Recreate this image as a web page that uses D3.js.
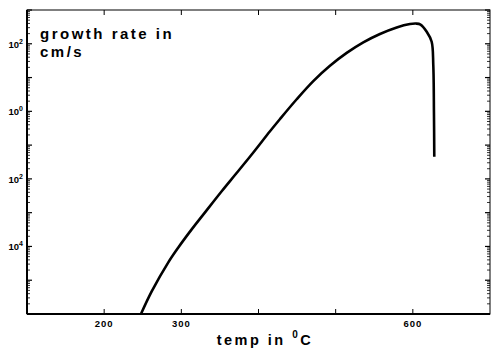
<!DOCTYPE html>
<html><head><meta charset="utf-8">
<script src="https://cdn.jsdelivr.net/npm/d3@7"></script>
<style>body{margin:0;background:#fff}svg{display:block}text{font-family:"Liberation Sans",Arial,sans-serif;font-weight:bold;fill:#000}</style>
</head><body><svg id="c" width="491" height="351"></svg>
<script>
// data: temperature (°C) and growth rate (cm/s)
const temps = [247.7,261.6,283.1,296.1,313.4,330.7,352.3,369.5,391.2,414.9,427.9,449.5,471.0,492.6,514.3,535.8,557.4,579.1,596.3,604,610,618.0,624.4,626.5,627.4,627.8];
const rates = [1e-6,4.65e-6,3.37e-5,9.31e-5,3.20e-4,1.02e-3,4.30e-3,0.0130,0.0528,0.257,0.594,2.28,7.85,22.3,53.6,110,195,305,384,397,372,228,115,23.6,0.778,0.0454];
const xTicks = [200,300,400,500,600];
const xTickLabels = ["200","300","","","600"];
const yLabelTicks = [1e2,1e0,1e-2,1e-4];
const yLabelExp = ["2","0","2","4"];
const xLabel = "temp in ", xLabelSup = "0", xLabelEnd = "C";
const titleLines = ["growth rate in","cm/s"];

const svg = d3.select("#c");
const L=27,R=490,T=10,B=314;
const x = d3.scaleLinear().domain([100,700]).range([L,R]);
const y = d3.scaleLog().domain([1e-6,1e3]).range([B,T]);

// frame
svg.append("rect").attr("x",L).attr("y",T).attr("width",R-L).attr("height",B-T)
  .attr("fill","none").attr("stroke","#000").attr("stroke-width",1);
svg.append("line").attr("x1",L).attr("x2",L).attr("y1",T).attr("y2",B).attr("stroke","#000").attr("stroke-width",2);
svg.append("line").attr("x1",L).attr("x2",R).attr("y1",B).attr("y2",B).attr("stroke","#000").attr("stroke-width",2);

// x ticks (bottom and top, inward)
const g = svg.append("g").attr("stroke","#000").attr("stroke-width",1);
xTicks.forEach(t=>{
  g.append("line").attr("x1",x(t)).attr("x2",x(t)).attr("y1",B).attr("y2",B-5);
  g.append("line").attr("x1",x(t)).attr("x2",x(t)).attr("y1",T).attr("y2",T+5);
});
// y ticks major + minor, left and right
const allY = [];
for(let e=-6;e<3;e++){for(let m=1;m<10;m++){allY.push({v:m*Math.pow(10,e),major:m===1});}}
allY.push({v:1e3,major:true});
allY.forEach(d=>{
  const yy=y(d.v), len=d.major?5:3;
  g.append("line").attr("x1",L).attr("x2",L+len).attr("y1",yy).attr("y2",yy).attr("stroke-width",d.major?1.2:0.8);
  g.append("line").attr("x1",R).attr("x2",R-len).attr("y1",yy).attr("y2",yy).attr("stroke-width",d.major?1.2:0.8);
});

// x tick labels
svg.selectAll(".xl").data(xTicks).enter().append("text")
  .attr("x",d=>x(d)).attr("y",327).attr("text-anchor","middle")
  .attr("font-size",9.5).attr("letter-spacing",1)
  .text((d,i)=>xTickLabels[i]);

// y tick labels
yLabelTicks.forEach((v,i)=>{
  const t = svg.append("text").attr("x",23).attr("y",y(v)+4).attr("text-anchor","end").attr("font-size",9.5);
  t.append("tspan").text("10");
  t.append("tspan").attr("dy",-4).attr("font-size",7).text(yLabelExp[i]);
});

// axis label
const xl = svg.append("text").attr("x",265).attr("y",345).attr("text-anchor","middle")
  .attr("font-size",14.5).attr("letter-spacing",2.5);
xl.append("tspan").text(xLabel);
xl.append("tspan").attr("dy",-7).attr("font-size",10).text(xLabelSup);
xl.append("tspan").attr("dy",7).text(xLabelEnd);

// title
titleLines.forEach((s,i)=>{
  svg.append("text").attr("x",40).attr("y",39+i*18).attr("font-size",15).attr("letter-spacing",2.5).text(s);
});

// curve
const data = temps.map((t,i)=>[t,rates[i]]);
svg.append("path").datum(data)
  .attr("d",d3.line().x(d=>x(d[0])).y(d=>y(d[1])).curve(d3.curveCatmullRom.alpha(0.5)))
  .attr("fill","none").attr("stroke","#000").attr("stroke-width",2.6).attr("stroke-linejoin","round");
</script></body></html>
